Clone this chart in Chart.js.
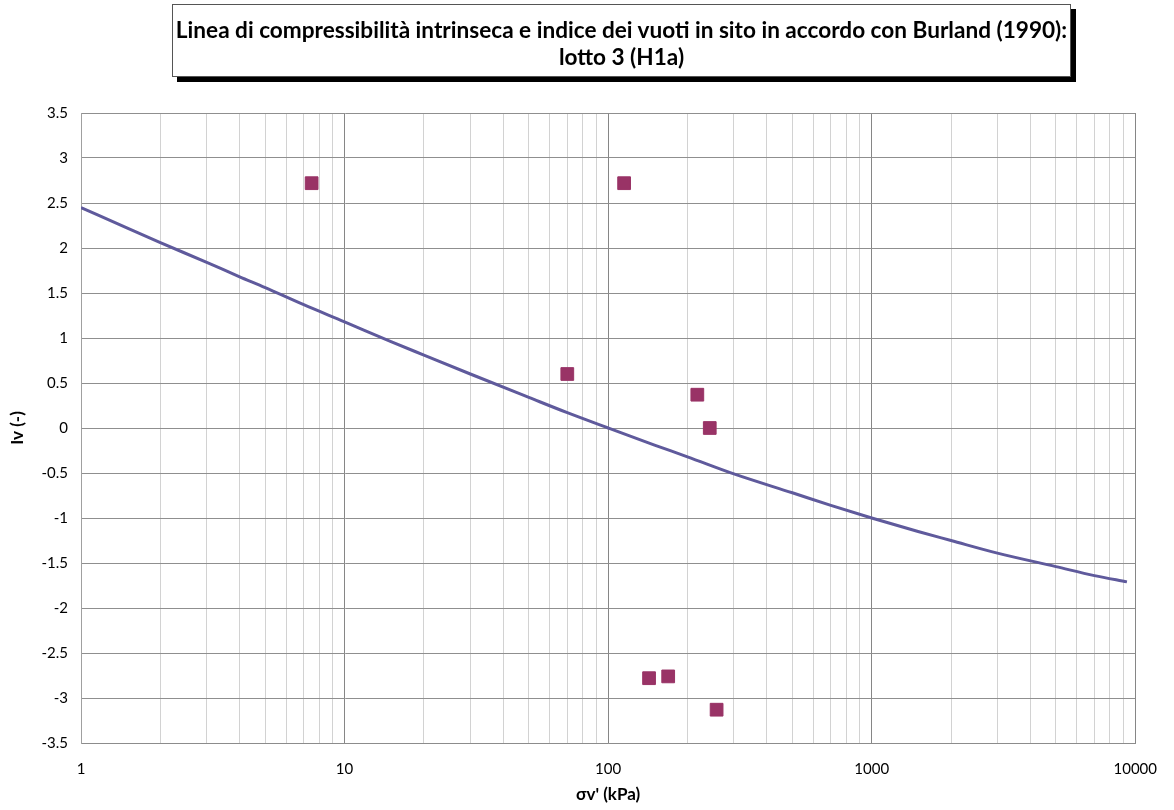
<!DOCTYPE html>
<html>
<head>
<meta charset="utf-8">
<script src="https://cdn.jsdelivr.net/npm/chart.js@4.4.1/dist/chart.umd.min.js"></script>
<style>
  html, body { margin: 0; padding: 0; background: #ffffff; }
  #wrap { position: relative; width: 1174px; height: 810px; }
  #chart { position: absolute; left: 0; top: 0; }
  #title {
    position: absolute; left: 172px; top: 4px; width: 899px; height: 73px;
    border: 1px solid #555555; background: #ffffff;
    box-shadow: 5px 5px 0 #000000;
    font-family: Lato, "Open Sans", sans-serif; font-weight: bold; font-size: 22.6px;
    color: #000000; text-align: center; line-height: 27px; white-space: nowrap;
    box-sizing: border-box; padding-top: 11px;
  }
</style>
</head>
<body>
<div id="wrap">
  <canvas id="chart" width="1174" height="810"></canvas>
  <div id="title">Linea di compressibilità intrinseca e indice dei vuoti in sito in accordo con Burland (1990):<br>lotto 3 (H1a)</div>
</div>
<script>
// Measured points (σ'v in kPa, Iv)
const sampleSigma = [7.5, 115, 70, 218, 243, 143, 169, 258];
const sampleIv    = [2.72, 2.72, 0.60, 0.37, 0.00, -2.78, -2.76, -3.13];

// Intrinsic compression line
const iclSigma = [1, 1.5, 2, 3, 4, 5, 7, 10, 15, 20, 30, 50, 70, 100, 150, 200, 300, 500, 700, 1000, 1500, 2000, 3000, 5000, 7000, 9300];
const iclIv    = [2.45, 2.22, 2.06, 1.84, 1.68, 1.56, 1.37, 1.18, 0.96, 0.81, 0.60, 0.34, 0.17, 0.00, -0.19, -0.32, -0.51, -0.72, -0.86, -1.00, -1.15, -1.25, -1.39, -1.54, -1.64, -1.71];

// Axis ticks
const xMajorTicks = [1, 10, 100, 1000, 10000];
const xMinorMultipliers = [2, 3, 4, 5, 6, 7, 8, 9];
const yTickLabels = ['3.5', '3', '2.5', '2', '1.5', '1', '0.5', '0', '-0.5', '-1', '-1.5', '-2', '-2.5', '-3', '-3.5'];

const xTickValues = [];
xMajorTicks.forEach((d, i) => {
  xTickValues.push(d);
  if (i < xMajorTicks.length - 1) xMinorMultipliers.forEach(m => xTickValues.push(d * m));
});

const FONT = 'Lato, "Open Sans", sans-serif';

new Chart(document.getElementById('chart'), {
  type: 'scatter',
  data: {
    datasets: [
      {
        label: 'Iv in sito',
        data: sampleSigma.map((s, i) => ({ x: s, y: sampleIv[i] })),
        pointStyle: 'rect',
        pointRadius: 9,
        backgroundColor: '#993366',
        borderColor: '#993366',
        borderWidth: 1,
        showLine: false
      },
      {
        label: 'ICL',
        data: iclSigma.map((s, i) => ({ x: s, y: iclIv[i] })),
        showLine: true,
        pointRadius: 0,
        borderColor: '#5F5A9C',
        borderWidth: 3,
        tension: 0.4,
        cubicInterpolationMode: 'monotone',
        fill: false
      }
    ]
  },
  options: {
    responsive: false,
    animation: false,
    events: [],
    layout: { padding: { top: 113, right: 36, bottom: 0, left: 0 } },
    plugins: { legend: { display: false }, tooltip: { enabled: false }, title: { display: false } },
    scales: {
      x: {
        type: 'logarithmic',
        min: 1, max: 10000,
        afterBuildTicks: (scale) => { scale.ticks = xTickValues.map(v => ({ value: v })); },
        afterFit: (scale) => { scale.height = 67; },
        ticks: {
          autoSkip: false, maxRotation: 0, padding: 17,
          color: '#000000', font: { family: FONT, size: 15 },
          callback: (v) => { const i = xMajorTicks.indexOf(v); return i >= 0 ? String(xMajorTicks[i]) : ''; }
        },
        grid: {
          drawTicks: false,
          color: (ctx) => (ctx.tick && xMajorTicks.includes(ctx.tick.value)) ? '#868686' : '#d2d2d2',
          lineWidth: 1
        },
        border: { color: '#8c8c8c', width: 1 },
        title: { display: true, text: "σv' (kPa)", color: '#000000', font: { family: FONT, size: 17, weight: 'bold' }, padding: { top: 0, bottom: 5 } }
      },
      y: {
        type: 'linear',
        min: -3.5, max: 3.5,
        afterFit: (scale) => { scale.width = 81; },
        ticks: {
          stepSize: 0.5, padding: 13,
          color: '#000000', font: { family: FONT, size: 15 },
          callback: (v) => { const s = yTickLabels.find(t => Math.abs(parseFloat(t) - v) < 1e-9); return s !== undefined ? s : ''; }
        },
        grid: { drawTicks: false, color: '#8f8f8f', lineWidth: 1 },
        border: { color: '#a0a0a0', width: 1 },
        title: { display: true, text: 'Iv (-)', color: '#000000', font: { family: FONT, size: 17, weight: 'bold' }, padding: { top: 7, bottom: 0 } }
      }
    }
  }
});
</script>
</body>
</html>
